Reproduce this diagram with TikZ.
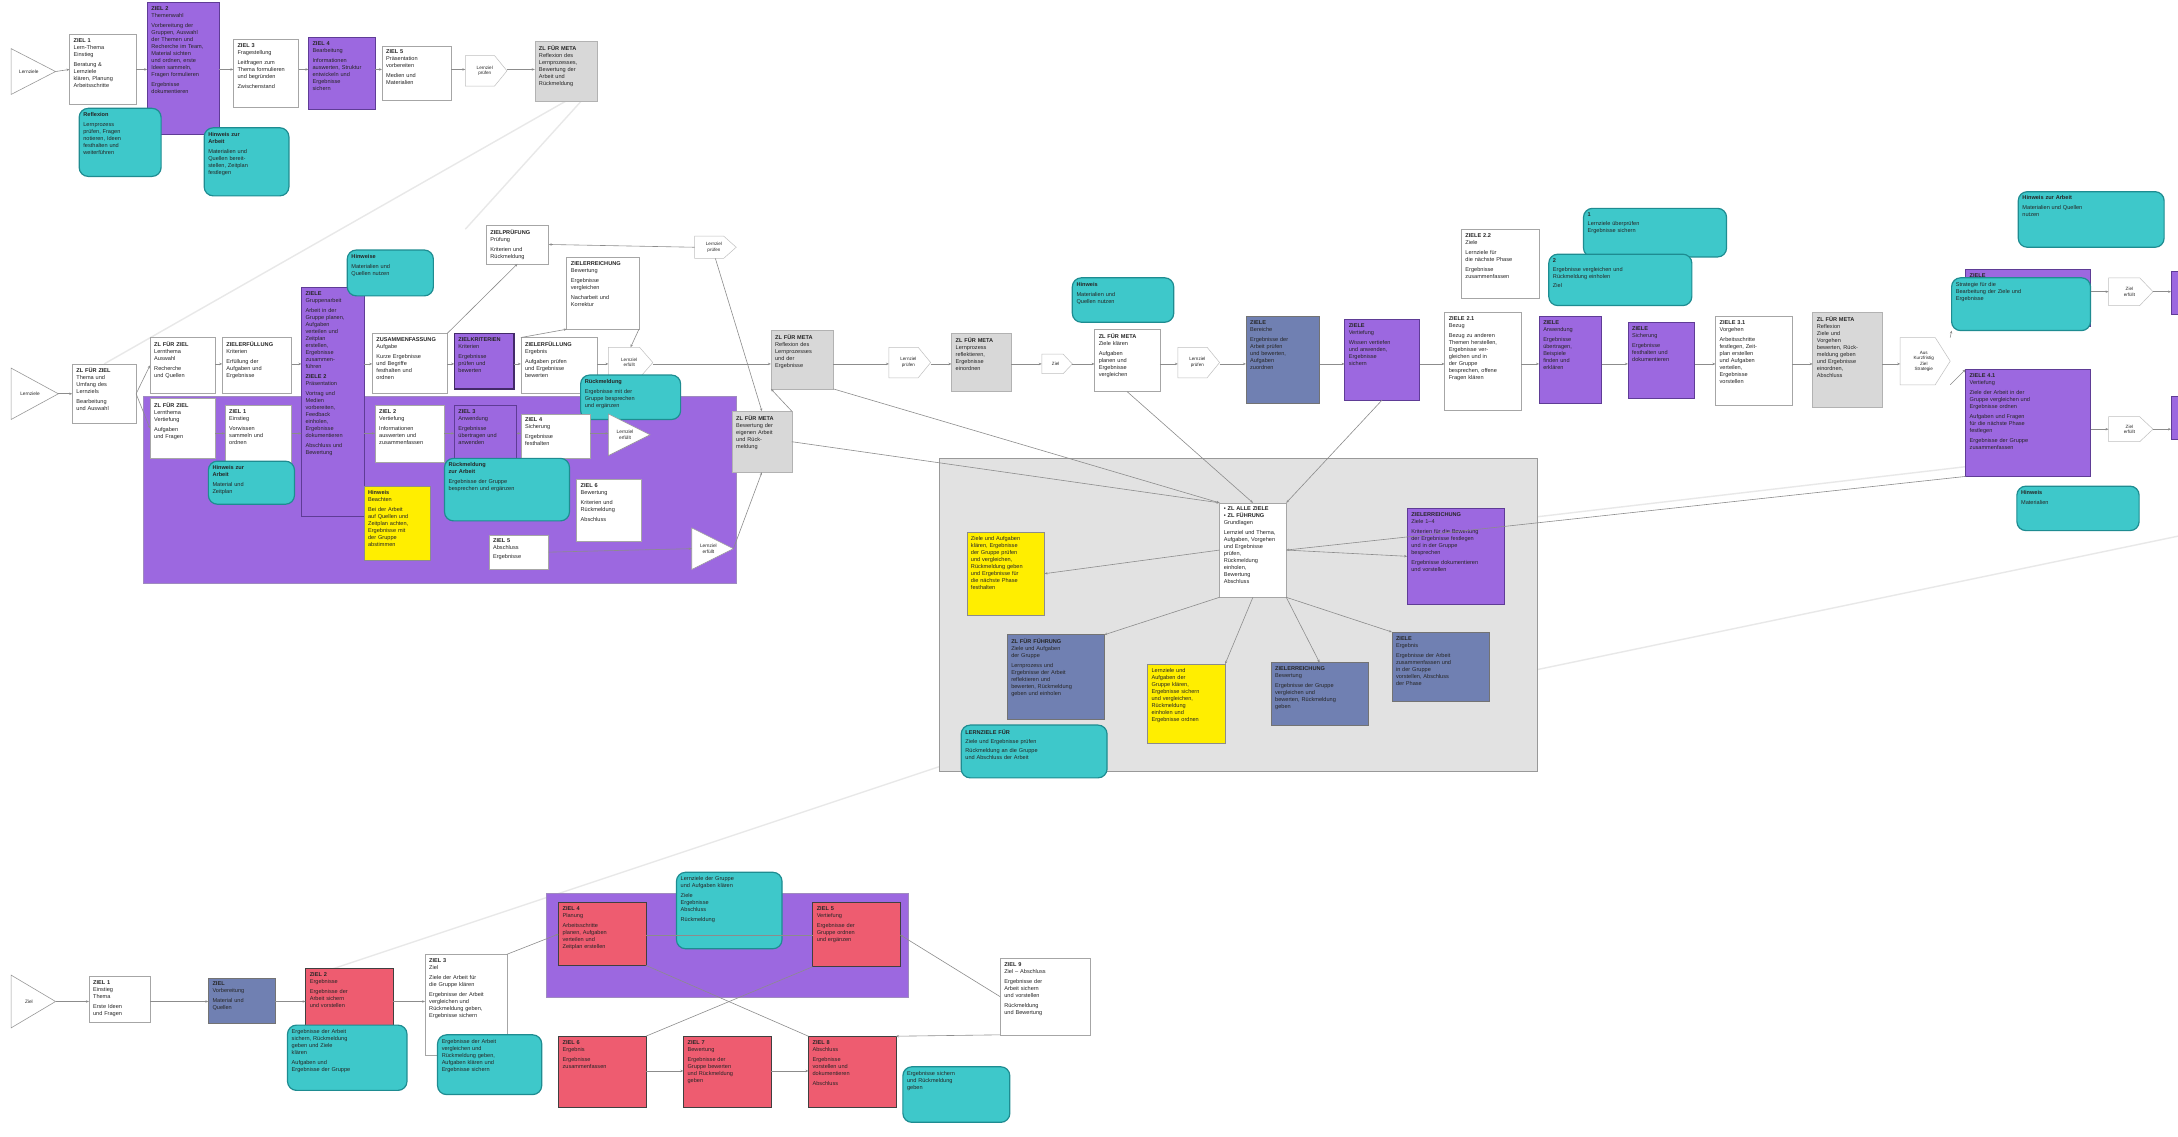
\documentclass[tikz,border=0pt]{standalone}
\usepackage{fontspec}
\setmainfont{Liberation Sans}
\usetikzlibrary{arrows.meta}
\definecolor{pur}{RGB}{156,104,224}
\definecolor{purd}{RGB}{95,60,150}
\definecolor{cya}{RGB}{62,200,202}
\definecolor{cyad}{RGB}{30,140,145}
\definecolor{gry}{RGB}{216,216,216}
\definecolor{pan}{RGB}{226,226,226}
\definecolor{blu}{RGB}{112,128,178}
\definecolor{yel}{RGB}{255,238,0}
\definecolor{redb}{RGB}{238,92,112}
\newcommand{\mybx}[7]{%
 \pgfmathsetmacro\bxw{(#5-#3)*1.389}%
 \pgfmathsetmacro\bxh{(#6-#4)*1.389}%
 \pgfmathsetmacro\bxt{max(\bxw-8,4)}%
 \node[#2, anchor=north west, minimum width=\bxw pt, minimum height=\bxh pt, inner sep=0pt, outer sep=0pt] (#1) at (#3,#4) {};%
 \node[txt, text width=\bxt pt, anchor=north west] (#1t) at ([xshift=4pt,yshift=-4pt]#1.north west) {#7};%
}
\newcommand{\mytri}[6]{%
 \pgfmathsetmacro\trm{(#3+#5)/2}%
 \pgfmathsetmacro\trc{#2+(#4-#2)*0.4}%
 \pgfmathsetmacro\trw{(#4-#2)*1.389}%
 \pgfmathsetmacro\trh{(#5-#3)*1.389}%
 \draw[tristy] (#2,#3) -- (#4,\trm) -- (#2,#5) -- cycle;%
 \coordinate (#1e) at (#4,\trm);%
 \node[inv, minimum width=\trw pt, minimum height=\trh pt] (#1) at ({(#2+#4)/2},\trm) {};%
 \node[txt, align=center, font=\fontsize{4.8}{5.8}\selectfont] (#1t) at (\trc,\trm) {#6};%
}
\newcommand{\mymrg}[6]{%
 \pgfmathsetmacro\mrm{(#3+#5)/2}%
 \pgfmathsetmacro\mrx{#4-(#4-#2)*0.3}%
 \pgfmathsetmacro\mrw{(#4-#2)*1.389}%
 \pgfmathsetmacro\mrh{(#5-#3)*1.389}%
 \draw[mrgsty] (#2,#3) -- (\mrx,#3) -- (#4,\mrm) -- (\mrx,#5) -- (#2,#5) -- cycle;%
 \node[inv, minimum width=\mrw pt, minimum height=\mrh pt] (#1) at ({(#2+#4)/2},\mrm) {};%
 \node[txt, align=center, font=\fontsize{4.6}{5.5}\selectfont] (#1t) at ({(#2+#4)/2-1},\mrm) {#6};%
}
\begin{document}
\begin{tikzpicture}[x=1.389pt,y=-1.389pt,
 txt/.style={inner sep=0pt, align=left, font=\fontsize{5.6}{7.0}\selectfont, text=black!85},
 inv/.style={inner sep=0pt, outer sep=0pt, draw=none},
 wbox/.style={draw=black!35, fill=white, line width=0.5pt},
 pbox/.style={draw=purd, fill=pur, line width=0.6pt},
 pdbox/.style={draw=purd!70!black, fill=pur, line width=1.4pt},
 pregion/.style={draw=purd!60, fill=pur, line width=0.6pt},
 cbox/.style={draw=cyad, fill=cya, line width=1.2pt, rounded corners=9pt},
 gbox/.style={draw=black!30, fill=gry, line width=0.5pt},
 panel/.style={draw=black!40, fill=pan, line width=0.6pt},
 bbox/.style={draw=black!55, fill=blu, line width=0.6pt},
 ybox/.style={draw=black!45, fill=yel, line width=0.5pt},
 rbox/.style={draw=black!75, fill=redb, line width=0.8pt},
 tristy/.style={draw=black!40, fill=white, line width=0.6pt},
 mrgsty/.style={draw=black!25, fill=white, line width=0.5pt},
 conn/.style={draw=black!45, line width=0.6pt, -{Stealth[length=3pt,width=2.4pt]}},
 plain/.style={draw=black!45, line width=0.6pt},
 faint/.style={draw=black!9, line width=1.4pt}]
\useasboundingbox[fill=white] (0,0) rectangle (1568,818);
\coordinate (Y1) at (0,50);
\coordinate (Y2) at (0,262);
\coordinate (Y3) at (0,312);
\coordinate (Y4) at (0,721);
\coordinate (Y5) at (0,673);
\coordinate (Y6) at (0,771);
\coordinate (FA) at (75,262);
\coordinate (FB) at (1107,482);
\coordinate (FC) at (1568,386);
\coordinate (FD) at (1107,372);
\coordinate (FE) at (232,700);
\coordinate (FF) at (676,552);
\coordinate (FG) at (335,165);
% faint background lines
\draw[faint] (FA) -- (407,73);
\draw[faint] (FG) -- (430,60);
\draw[faint] (FE) -- (FF);
\draw[faint] (FB) -- (FC);
\draw[faint] (FD) -- (1415,336);
% ================= ROW 1 =================
\mytri{s1}{8}{35}{40}{68}{Lernziele}
\mybx{b1}{wbox}{50}{25}{98}{75}{\textbf{ZIEL 1}\\Lern-Thema\\Einstieg\\[3pt]Beratung \&\\Lernziele\\klären, Planung\\Arbeitsschritte}
\mybx{p1}{pbox}{106}{2}{158}{97}{\textbf{ZIEL 2}\\Themenwahl\\[3pt]Vorbereitung der\\Gruppen, Auswahl\\der Themen und\\Recherche im Team,\\Material sichten\\und ordnen, erste\\Ideen sammeln,\\Fragen formulieren\\[3pt]Ergebnisse\\dokumentieren}
\mybx{b2}{wbox}{168}{28}{215}{77}{\textbf{ZIEL 3}\\Fragestellung\\[3pt]Leitfragen zum\\Thema formulieren\\und begründen\\[3pt]Zwischenstand}
\mybx{p2}{pbox}{222}{27}{270}{79}{\textbf{ZIEL 4}\\Bearbeitung\\[3pt]Informationen\\auswerten, Struktur\\entwickeln und\\Ergebnisse\\sichern}
\mybx{b3}{wbox}{275}{33}{325}{72}{\textbf{ZIEL 5}\\Präsentation\\vorbereiten\\[3pt]Medien und\\Materialien}
\mymrg{m1}{335}{40}{365}{62}{Lernziel\\prüfen}
\mybx{g1}{gbox}{385}{30}{430}{73}{\textbf{ZL FÜR META}\\Reflexion des\\Lernprozesses,\\Bewertung der\\Arbeit und\\Rückmeldung}
\mybx{c1}{cbox}{57}{78}{116}{127}{\textbf{Reflexion}\\[3pt]Lernprozess\\prüfen, Fragen\\notieren, Ideen\\festhalten und\\weiterführen}
\mybx{c2}{cbox}{147}{92}{208}{141}{\textbf{Hinweis zur}\\\textbf{Arbeit}\\[3pt]Materialien und\\Quellen bereit-\\stellen, Zeitplan\\festlegen}
\draw[conn] (s1e) -- (b1.west |- Y1);
\draw[conn] (b1.east |- Y1) -- (p1.west |- Y1);
\draw[conn] (p1.east |- Y1) -- (b2.west |- Y1);
\draw[conn] (b2.east |- Y1) -- (p2.west |- Y1);
\draw[conn] (p2.east |- Y1) -- (b3.west |- Y1);
\draw[conn] (b3.east |- Y1) -- (m1.west |- Y1);
\draw[conn] (m1.east |- Y1) -- (g1.west |- Y1);
% ================= ROW 2 =================
\mybx{reg1}{pregion}{103}{285}{530}{420}{}
\mytri{s2}{8}{265}{42}{302}{Lernziele}
\mybx{b4}{wbox}{52}{262}{98}{305}{\textbf{ZL FÜR ZIEL}\\Thema und\\Umfang des\\Lernziels\\[3pt]Bearbeitung\\und Auswahl}
\mybx{b5}{wbox}{108}{243}{155}{283}{\textbf{ZL FÜR ZIEL}\\Lernthema\\Auswahl\\[3pt]Recherche\\und Quellen}
\mybx{b6}{wbox}{160}{243}{210}{283}{\textbf{ZIELERFÜLLUNG}\\Kriterien\\[3pt]Erfüllung der\\Aufgaben und\\Ergebnisse}
\mybx{p3}{pbox}{217}{207}{262}{372}{\textbf{ZIELE}\\Gruppenarbeit\\[3pt]Arbeit in der\\Gruppe planen,\\Aufgaben\\verteilen und\\Zeitplan\\erstellen,\\Ergebnisse\\zusammen-\\führen\\[3pt]\textbf{ZIELE 2}\\Präsentation\\[3pt]Vortrag und\\Medien\\vorbereiten,\\Feedback\\einholen,\\Ergebnisse\\dokumentieren\\[3pt]Abschluss und\\Bewertung}
\mybx{b7}{wbox}{268}{240}{322}{283}{\textbf{ZUSAMMENFASSUNG}\\Aufgabe\\[3pt]Kurze Ergebnisse\\und Begriffe\\festhalten und\\ordnen}
\mybx{p4}{pdbox}{327}{240}{370}{280}{\textbf{ZIELKRITERIEN}\\Kriterien\\[3pt]Ergebnisse\\prüfen und\\bewerten}
\mybx{b8}{wbox}{375}{243}{430}{283}{\textbf{ZIELERFÜLLUNG}\\Ergebnis\\[3pt]Aufgaben prüfen\\und Ergebnisse\\bewerten}
\mymrg{m2}{438}{250}{470}{272}{Lernziel\\erfüllt}
\mybx{b9}{wbox}{350}{162}{395}{190}{\textbf{ZIELPRÜFUNG}\\Prüfung\\[3pt]Kriterien und\\Rückmeldung}
\mybx{b10}{wbox}{408}{185}{460}{237}{\textbf{ZIELERREICHUNG}\\Bewertung\\[3pt]Ergebnisse\\vergleichen\\[3pt]Nacharbeit und\\Korrektur}
\mymrg{m3}{500}{170}{530}{186}{Lernziel\\prüfen}
\mybx{c3}{cbox}{250}{180}{312}{213}{\textbf{Hinweise}\\[3pt]Materialien und\\Quellen nutzen}
\mybx{c4}{cbox}{418}{270}{490}{302}{\textbf{Rückmeldung}\\[3pt]Ergebnisse mit der\\Gruppe besprechen\\und ergänzen}
\mybx{b11}{wbox}{108}{287}{155}{330}{\textbf{ZL FÜR ZIEL}\\Lernthema\\Vertiefung\\[3pt]Aufgaben\\und Fragen}
\mybx{b12}{wbox}{162}{292}{210}{333}{\textbf{ZIEL 1}\\Einstieg\\[3pt]Vorwissen\\sammeln und\\ordnen}
\mybx{b13}{wbox}{270}{292}{320}{333}{\textbf{ZIEL 2}\\Vertiefung\\[3pt]Informationen\\auswerten und\\zusammenfassen}
\mybx{p5}{pbox}{327}{292}{372}{335}{\textbf{ZIEL 3}\\Anwendung\\[3pt]Ergebnisse\\übertragen und\\anwenden}
\mybx{b14}{wbox}{375}{298}{425}{330}{\textbf{ZIEL 4}\\Sicherung\\[3pt]Ergebnisse\\festhalten}
\mytri{t1}{438}{298}{468}{328}{Lernziel\\erfüllt}
\mybx{c5}{cbox}{150}{332}{212}{363}{\textbf{Hinweis zur}\\\textbf{Arbeit}\\[3pt]Material und\\Zeitplan}
\mybx{y1}{ybox}{262}{350}{310}{403}{\textbf{Hinweis}\\Beachten\\[3pt]Bei der Arbeit\\auf Quellen und\\Zeitplan achten,\\Ergebnisse mit\\der Gruppe\\abstimmen}
\mybx{c6}{cbox}{320}{330}{410}{375}{\textbf{Rückmeldung}\\\textbf{zur Arbeit}\\[3pt]Ergebnisse der Gruppe\\besprechen und ergänzen}
\mybx{b15}{wbox}{352}{385}{395}{410}{\textbf{ZIEL 5}\\Abschluss\\[2pt]Ergebnisse}
\mybx{b16}{wbox}{415}{345}{462}{390}{\textbf{ZIEL 6}\\Bewertung\\[3pt]Kriterien und\\Rückmeldung\\[3pt]Abschluss}
\mytri{t2}{498}{380}{528}{410}{Lernziel\\erfüllt}
\mybx{g2}{gbox}{555}{238}{600}{280}{\textbf{ZL FÜR META}\\Reflexion des\\Lernprozesses\\und der\\Ergebnisse}
\mybx{g3}{gbox}{527}{296}{570}{340}{\textbf{ZL FÜR META}\\Bewertung der\\eigenen Arbeit\\und Rück-\\meldung}
\draw[conn] (s2e) -- (b4.west |- s2e);
\draw[conn] (b4.east) -- (b5.west);
\draw[conn] (b4.east) -- (b11.west);
\draw[conn] (b5.east |- Y2) -- (b6.west |- Y2);
\draw[conn] (b6.east |- Y2) -- (p3.west |- Y2);
\draw[conn] (p3.east |- Y2) -- (b7.west |- Y2);
\draw[conn] (b7.east |- Y2) -- (p4.west |- Y2);
\draw[conn] (p4.east |- Y2) -- (b8.west |- Y2);
\draw[conn] (b8.east |- Y2) -- (m2.west |- Y2);
\draw[conn] (m2.east |- Y2) -- (g2.west |- Y2);
\draw[conn] (b7.north east) -- (b9.south);
\draw[conn] (b8.north west) -- (b10.south west);
\draw[conn] (b10.south east) -- (m2.north);
\draw[conn] (m3.west) -- (b9.east);
\draw[conn] (m3.south) -- (g3.north);
\draw[conn] (b11.east |- Y3) -- (b12.west |- Y3);
\draw[conn] (b12.east |- Y3) -- (p3.west |- Y3);
\draw[conn] (p3.east |- Y3) -- (b13.west |- Y3);
\draw[conn] (b13.east |- Y3) -- (p5.west |- Y3);
\draw[conn] (p5.east |- Y3) -- (b14.west |- Y3);
\draw[conn] (b14.east |- Y3) -- (t1.west |- Y3);
\draw[conn] (b15.east) -- (t2.west);
\draw[conn] (t2e) -- (g3.south);
\draw[conn] (g3.north east) -- (g2.south west);
% right part of row 2
\mymrg{m4}{640}{250}{670}{272}{Lernziel\\prüfen}
\mybx{g4}{gbox}{685}{240}{728}{282}{\textbf{ZL FÜR META}\\Lernprozess\\reflektieren,\\Ergebnisse\\einordnen}
\mymrg{m5}{750}{255}{772}{269}{Ziel}
\mybx{b17}{wbox}{788}{237}{835}{282}{\textbf{ZL FÜR META}\\Ziele klären\\[3pt]Aufgaben\\planen und\\Ergebnisse\\vergleichen}
\mymrg{m6}{848}{250}{878}{272}{Lernziel\\prüfen}
\mybx{c7}{cbox}{772}{200}{845}{232}{\textbf{Hinweis}\\[3pt]Materialien und\\Quellen nutzen}
\mybx{n1}{bbox}{897}{228}{950}{290}{\textbf{ZIELE}\\Bereiche\\[3pt]Ergebnisse der\\Arbeit prüfen\\und bewerten,\\Aufgaben\\zuordnen}
\mybx{p6}{pbox}{968}{230}{1022}{288}{\textbf{ZIELE}\\Vertiefung\\[3pt]Wissen vertiefen\\und anwenden,\\Ergebnisse\\sichern}
\mybx{b18}{wbox}{1040}{225}{1095}{295}{\textbf{ZIELE 2.1}\\Bezug\\[3pt]Bezug zu anderen\\Themen herstellen,\\Ergebnisse ver-\\gleichen und in\\der Gruppe\\besprechen, offene\\Fragen klären}
\mybx{b19}{wbox}{1052}{165}{1108}{215}{\textbf{ZIELE 2.2}\\Ziele\\[3pt]Lernziele für\\die nächste Phase\\[3pt]Ergebnisse\\zusammenfassen}
\mybx{p7}{pbox}{1108}{228}{1153}{290}{\textbf{ZIELE}\\Anwendung\\[3pt]Ergebnisse\\übertragen,\\Beispiele\\finden und\\erklären}
\mybx{p8}{pbox}{1172}{232}{1220}{287}{\textbf{ZIELE}\\Sicherung\\[3pt]Ergebnisse\\festhalten und\\dokumentieren}
\mybx{b20}{wbox}{1235}{228}{1290}{292}{\textbf{ZIELE 3.1}\\Vorgehen\\[3pt]Arbeitsschritte\\festlegen, Zeit-\\plan erstellen\\und Aufgaben\\verteilen,\\Ergebnisse\\vorstellen}
\mybx{g5}{gbox}{1305}{225}{1355}{293}{\textbf{ZL FÜR META}\\Reflexion\\Ziele und\\Vorgehen\\bewerten, Rück-\\meldung geben\\und Ergebnisse\\einordnen,\\Abschluss}
\mymrg{m7}{1368}{243}{1404}{277}{Aus\\Kurzfristig\\Ziel\\Strategie}
\mybx{c8}{cbox}{1140}{150}{1243}{185}{\textbf{1}\\[2pt]Lernziele überprüfen\\Ergebnisse sichern}
\mybx{c9}{cbox}{1115}{183}{1218}{220}{\textbf{2}\\[2pt]Ergebnisse vergleichen und\\Rückmeldung einholen\\[2pt]Ziel}
\mybx{c10}{cbox}{1453}{138}{1558}{178}{\textbf{Hinweis zur Arbeit}\\[3pt]Materialien und Quellen\\nutzen}
\mybx{p9}{pbox}{1415}{194}{1505}{235}{\textbf{ZIELE}}
\mybx{c11}{cbox}{1405}{200}{1505}{238}{Strategie für die\\Bearbeitung der Ziele und\\Ergebnisse}
\mymrg{m8}{1518}{200}{1550}{220}{Ziel\\erfüllt}
\mybx{p10}{pbox}{1563}{195}{1580}{226}{}
\mybx{p11}{pbox}{1415}{266}{1505}{343}{\textbf{ZIELE 4.1}\\Vertiefung\\[3pt]Ziele der Arbeit in der\\Gruppe vergleichen und\\Ergebnisse ordnen\\[3pt]Aufgaben und Fragen\\für die nächste Phase\\festlegen\\[3pt]Ergebnisse der Gruppe\\zusammenfassen}
\mymrg{m9}{1518}{300}{1550}{318}{Ziel\\erfüllt}
\mybx{p12}{pbox}{1563}{285}{1580}{316}{}
\mybx{c12}{cbox}{1452}{350}{1540}{382}{\textbf{Hinweis}\\[3pt]Materialien}
\draw[conn] (g2.east |- Y2) -- (m4.west |- Y2);
\draw[conn] (m4.east |- Y2) -- (g4.west |- Y2);
\draw[conn] (g4.east |- Y2) -- (m5.west |- Y2);
\draw[conn] (m5.east |- Y2) -- (b17.west |- Y2);
\draw[conn] (b17.east |- Y2) -- (m6.west |- Y2);
\draw[conn] (m6.east |- Y2) -- (n1.west |- Y2);
\draw[conn] (n1.east |- Y2) -- (p6.west |- Y2);
\draw[conn] (p6.east |- Y2) -- (b18.west |- Y2);
\draw[conn] (b18.east |- Y2) -- (p7.west |- Y2);
\draw[conn] (p7.east |- Y2) -- (p8.west |- Y2);
\draw[conn] (p8.east |- Y2) -- (b20.west |- Y2);
\draw[conn] (b20.east |- Y2) -- (g5.west |- Y2);
\draw[conn] (g5.east |- Y2) -- (m7.west |- Y2);
\draw[conn] (m7.north east) -- (c11.south west);
\draw[conn] (m7.south east) -- (p11.north west);
\draw[conn] (c11.east |- m8) -- (m8.west);
\draw[conn] (m8.east) -- (p10.west |- m8);
\draw[conn] (p11.east |- m9) -- (m9.west);
\draw[conn] (m9.east) -- (p12.west |- m9);
% ================= PANEL =================
\mybx{pan}{panel}{676}{330}{1107}{555}{}
\mybx{ctr}{wbox}{878}{362}{926}{430}{\textbf{\textbullet{} ZL ALLE ZIELE}\\\textbf{\textbullet{} ZL FÜHRUNG}\\Grundlagen\\[3pt]Lernziel und Thema,\\Aufgaben, Vorgehen\\und Ergebnisse\\prüfen,\\Rückmeldung\\einholen,\\Bewertung\\Abschluss}
\mybx{y2}{ybox}{696}{383}{752}{443}{Ziele und Aufgaben\\klären, Ergebnisse\\der Gruppe prüfen\\und vergleichen,\\Rückmeldung geben\\und Ergebnisse für\\die nächste Phase\\festhalten}
\mybx{p13}{pbox}{1013}{366}{1083}{435}{\textbf{ZIELERREICHUNG}\\Ziele 1--4\\[3pt]Kriterien für die Bewertung\\der Ergebnisse festlegen\\und in der Gruppe\\besprechen\\[3pt]Ergebnisse dokumentieren\\und vorstellen}
\mybx{n2}{bbox}{725}{457}{795}{518}{\textbf{ZL FÜR FÜHRUNG}\\Ziele und Aufgaben\\der Gruppe\\[3pt]Lernprozess und\\Ergebnisse der Arbeit\\reflektieren und\\bewerten, Rückmeldung\\geben und einholen}
\mybx{y3}{ybox}{826}{478}{882}{535}{Lernziele und\\Aufgaben der\\Gruppe klären,\\Ergebnisse sichern\\und vergleichen,\\Rückmeldung\\einholen und\\Ergebnisse ordnen}
\mybx{n3}{bbox}{915}{477}{985}{522}{\textbf{ZIELERREICHUNG}\\Bewertung\\[3pt]Ergebnisse der Gruppe\\vergleichen und\\bewerten, Rückmeldung\\geben}
\mybx{n4}{bbox}{1002}{455}{1072}{505}{\textbf{ZIELE}\\Ergebnis\\[3pt]Ergebnisse der Arbeit\\zusammenfassen und\\in der Gruppe\\vorstellen, Abschluss\\der Phase}
\mybx{c13}{cbox}{692}{522}{797}{560}{\textbf{LERNZIELE FÜR}\\[2pt]Ziele und Ergebnisse prüfen\\[2pt]Rückmeldung an die Gruppe\\und Abschluss der Arbeit}
\draw[conn] (ctr.west) -- (y2.east);
\draw[conn] (ctr.south west) -- (n2.north east);
\draw[conn] (ctr.south) -- (y3.north east);
\draw[conn] (ctr.south east) -- (n3.north);
\draw[conn] (ctr.south east) -- (n4.north west);
\draw[conn] (ctr.east) -- (p13.west);
\draw[conn] (g3.east) -- (ctr.north west);
\draw[conn] (g2.south east) -- (ctr.north west);
\draw[conn] (b17.south) -- (ctr.north);
\draw[conn] (p6.south) -- (ctr.north east);
\draw[conn] (p11.south west) -- (ctr.east);
% ================= ROW 3 =================
\mybx{reg2}{pregion}{393}{643}{654}{718}{}
\mytri{s3}{8}{702}{40}{740}{Ziel}
\mybx{b21}{wbox}{64}{703}{108}{736}{\textbf{ZIEL 1}\\Einstieg\\Thema\\[3pt]Erste Ideen\\und Fragen}
\mybx{n5}{bbox}{150}{704}{198}{737}{\textbf{ZIEL}\\Vorbereitung\\[3pt]Material und\\Quellen}
\mybx{r1}{rbox}{220}{697}{283}{740}{\textbf{ZIEL 2}\\Ergebnisse\\[3pt]Ergebnisse der\\Arbeit sichern\\und vorstellen}
\mybx{b22}{wbox}{306}{687}{365}{760}{\textbf{ZIEL 3}\\Ziel\\[3pt]Ziele der Arbeit für\\die Gruppe klären\\[3pt]Ergebnisse der Arbeit\\vergleichen und\\Rückmeldung geben,\\Ergebnisse sichern}
\mybx{r2}{rbox}{402}{650}{465}{695}{\textbf{ZIEL 4}\\Planung\\[3pt]Arbeitsschritte\\planen, Aufgaben\\verteilen und\\Zeitplan erstellen}
\mybx{r3}{rbox}{585}{650}{648}{696}{\textbf{ZIEL 5}\\Vertiefung\\[3pt]Ergebnisse der\\Gruppe ordnen\\und ergänzen}
\mybx{c16}{cbox}{487}{628}{563}{683}{Lernziele der Gruppe\\und Aufgaben klären\\[3pt]Ziele\\Ergebnisse\\Abschluss\\[3pt]Rückmeldung}
\mybx{r4}{rbox}{402}{746}{465}{797}{\textbf{ZIEL 6}\\Ergebnis\\[3pt]Ergebnisse\\zusammenfassen}
\mybx{r5}{rbox}{492}{746}{555}{797}{\textbf{ZIEL 7}\\Bewertung\\[3pt]Ergebnisse der\\Gruppe bewerten\\und Rückmeldung\\geben}
\mybx{r6}{rbox}{582}{746}{645}{797}{\textbf{ZIEL 8}\\Abschluss\\[3pt]Ergebnisse\\vorstellen und\\dokumentieren\\[3pt]Abschluss}
\mybx{b23}{wbox}{720}{690}{785}{745}{\textbf{ZIEL 9}\\Ziel -- Abschluss\\[3pt]Ergebnisse der\\Arbeit sichern\\und vorstellen\\[3pt]Rückmeldung\\und Bewertung}
\mybx{c14}{cbox}{207}{738}{293}{785}{Ergebnisse der Arbeit\\sichern, Rückmeldung\\geben und Ziele\\klären\\[3pt]Aufgaben und\\Ergebnisse der Gruppe}
\mybx{c15}{cbox}{315}{745}{390}{788}{Ergebnisse der Arbeit\\vergleichen und\\Rückmeldung geben,\\Aufgaben klären und\\Ergebnisse sichern}
\mybx{c17}{cbox}{650}{768}{727}{808}{Ergebnisse sichern\\und Rückmeldung\\geben}
\draw[conn] (s3e) -- (b21.west |- Y4);
\draw[conn] (b21.east |- Y4) -- (n5.west |- Y4);
\draw[conn] (n5.east |- Y4) -- (r1.west |- Y4);
\draw[conn] (r1.east |- Y4) -- (b22.west |- Y4);
\draw[conn] (b22.north east) -- (r2.west);
\draw[plain] (r2.east |- Y5) -- (r3.west |- Y5);
\draw[plain] (r2.south east) -- (r6.north west);
\draw[plain] (r3.south west) -- (r4.north east);
\draw[conn] (r4.east |- Y6) -- (r5.west |- Y6);
\draw[conn] (r5.east |- Y6) -- (r6.west |- Y6);
\draw[conn] (b23.west) -- (r3.east);
\draw[conn] (b23.south west) -- (r6.north east);
\end{tikzpicture}
\end{document}
